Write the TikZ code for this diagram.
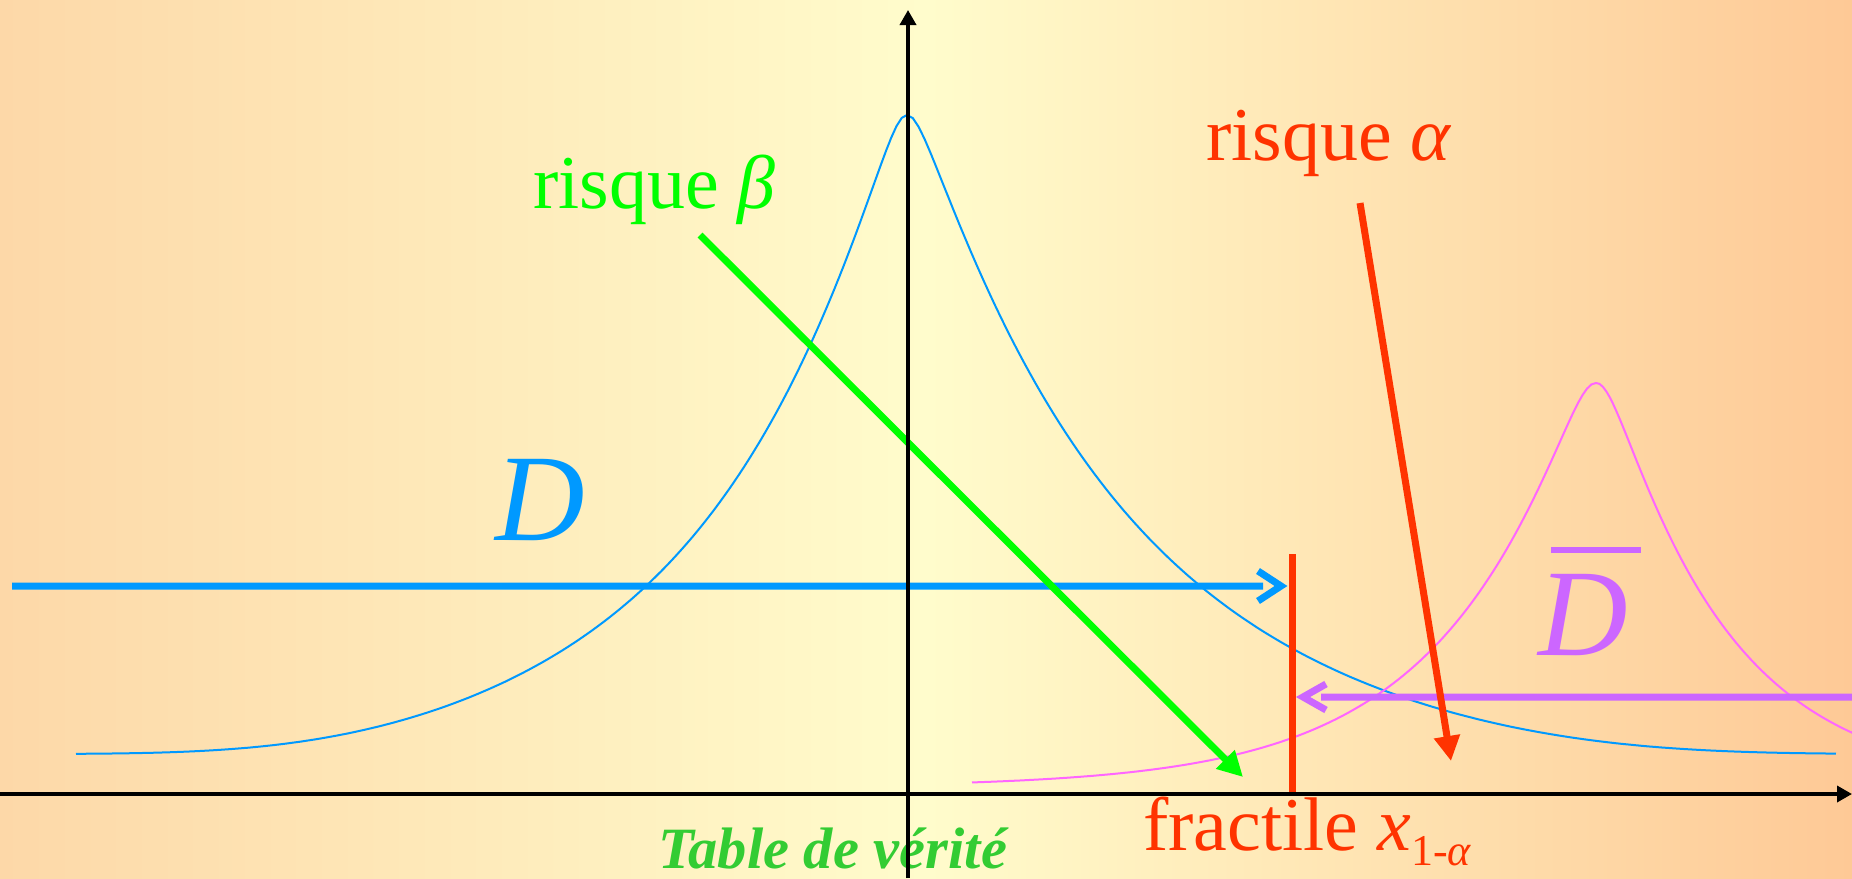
\documentclass[tikz,border=0pt]{standalone}
\usepackage{fontspec}
\setmainfont{Liberation Serif}
\usetikzlibrary{arrows.meta}

\definecolor{fondG}{RGB}{253,216,168}
\definecolor{fondM}{RGB}{255,252,204}
\definecolor{fondD}{RGB}{254,201,150}
\definecolor{bleuD}{HTML}{0099FF}
\definecolor{roseD}{HTML}{FF66FF}
\definecolor{violetD}{HTML}{CC66FF}
\definecolor{rouge}{HTML}{FF3300}
\definecolor{vertB}{HTML}{00FF00}
\definecolor{vertT}{HTML}{33CC33}

\begin{document}
\begin{tikzpicture}[x=1pt,y=-1pt,
  loi/.style={line width=2pt},
  fleche/.style={line width=7pt,-{Triangle[length=25pt,width=25pt]}},
  borne/.style={line width=7pt,line join=miter},
  axe/.style={line width=3.5pt,-{Triangle[length=15pt,width=16pt]}},
  etiq/.style={inner sep=0pt,anchor=base west}]
\useasboundingbox (0,0) rectangle (1852,878);
\shade[left color=fondG,right color=fondD,middle color=fondM](0,0)rectangle(1852,878);
% loi de D
\draw[loi,bleuD] plot[domain=-8.31:0,samples=160]
  ({907+100*\x},{754-639*exp(-(sqrt(\x*\x+0.0225)-0.15)/1.86-0.94*(abs(\x)/6.33)^5)})
  -- plot[domain=0:9.29,samples=160]
  ({907+100*\x},{754-639*exp(-(sqrt(\x*\x+0.0225)-0.15)/2.10-0.68*(\x/6.91)^5)});
% loi de D barre
\draw[loi,roseD] plot[domain=-6.24:0,samples=140]
  ({1596+100*\x},{787-404*exp(-(sqrt(\x*\x+0.04)-0.2)/1.35)})
  -- plot[domain=0:2.7,samples=80]
  ({1596+100*\x},{787-404*exp(-(sqrt(\x*\x+0.04)-0.2)/1.18)});
\coordinate (O) at (908,794);
\coordinate (xf) at (1292,554);
\coordinate (d1) at (12,586);
\coordinate (d2) at (1852,697);
\draw[borne,bleuD](d1)--(1263,586) (1258,571)--(1281,586)--(1258,601);
\draw[borne,violetD](d2)--(1321,697) (1326,684)--(1303,697)--(1326,710);
\draw[fleche,vertB](700,235)coordinate(b1)--(1243,777)coordinate(b2);
\draw[line width=7pt,rouge](xf)--(xf|-O);
\draw[fleche,rouge](1360,203)coordinate(a1)--(1451,761)coordinate(a2);
\node[etiq,text=vertB,font=\fontsize{76}{80}\selectfont](beta)at(533,208){risque \textit{β}};
\node[etiq,text=rouge,font=\fontsize{76}{80}\selectfont](alpha)at(1206,160){risque \textit{α}};
\node[etiq,text=rouge,font=\fontsize{76}{80}\selectfont](frac)at(1143,850)
  {fractile \textit{x}\raisebox{-15pt}{\fontsize{44}{48}\selectfont 1-\textit{α}}};
\node[etiq,text=bleuD,font=\fontsize{124}{130}\selectfont\itshape](D)at(495,540){D};
\node[etiq,text=violetD,font=\fontsize{124}{130}\selectfont\itshape](Dbar)at(1538,655){D};
\draw[line width=6pt,violetD]([shift={(13,-24)}]Dbar.north west)--([shift={(13,-24)}]Dbar.north east);
\node[etiq,text=vertT,font=\fontsize{58.5}{62}\selectfont\bfseries\itshape](table)at(658,868){Table de vérité};
\draw[axe](0,794)--(1852,794);
\draw[axe](908,878)--(908,10);
\end{tikzpicture}
\end{document}
